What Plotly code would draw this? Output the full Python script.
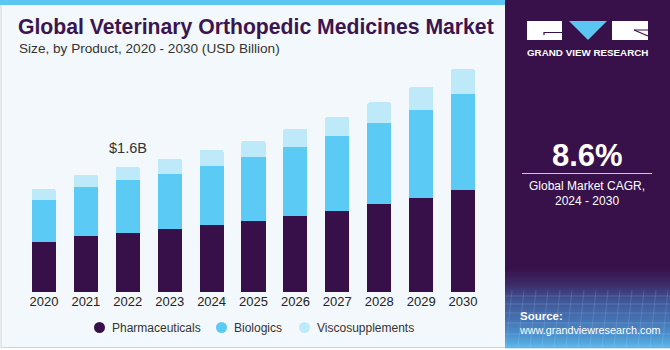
import plotly.graph_objects as go

years = ["2020", "2021", "2022", "2023", "2024", "2025", "2026", "2027", "2028", "2029", "2030"]
pharmaceuticals = [0.64, 0.71, 0.757, 0.805, 0.851, 0.907, 0.966, 1.038, 1.119, 1.20, 1.298]
biologics = [0.536, 0.626, 0.668, 0.706, 0.759, 0.812, 0.89, 0.954, 1.034, 1.124, 1.226]
viscosupplements = [0.14, 0.158, 0.175, 0.188, 0.204, 0.213, 0.23, 0.246, 0.268, 0.294, 0.319]
series_names = ["Pharmaceuticals", "Biologics", "Viscosupplements"]
series_colors = ["#37104a", "#5bcaf5", "#bee9f9"]
highlight_label = "$1.6B"
highlight_year = "2022"
cagr_text = "8.6%"

W, H = 670, 350
ML, MR, MT, MB = 23, 186, 57, 58
PW, PH = W - ML - MR, H - MT - MB


def px_x(x):
    return (x - ML) / PW


def px_y(y):
    return (H - MB - y) / PH


FONT = "Liberation Sans, Arial, sans-serif"

fig = go.Figure()
for name, vals, col in zip(series_names, [pharmaceuticals, biologics, viscosupplements], series_colors):
    fig.add_trace(go.Bar(x=years, y=vals, name=name, marker=dict(color=col, line=dict(width=0)),
                         showlegend=False, hoverinfo="skip"))

totals = [a + b + c for a, b, c in zip(pharmaceuticals, biologics, viscosupplements)]
hi = years.index(highlight_year)

shapes = []
# card background
shapes.append(dict(type="rect", xref="paper", yref="paper", x0=px_x(1), x1=px_x(506), y0=px_y(347.5), y1=px_y(1),
                   fillcolor="#f3f8fc", line=dict(color="#cfd3d6", width=1), layer="below"))
# top stripe
shapes.append(dict(type="rect", xref="paper", yref="paper", x0=px_x(0), x1=px_x(506), y0=px_y(5), y1=px_y(0),
                   fillcolor="#5cc6f2", line=dict(width=0), layer="below"))
# right panel
shapes.append(dict(type="rect", xref="paper", yref="paper", x0=px_x(505), x1=px_x(670), y0=px_y(348), y1=px_y(0),
                   fillcolor="#38114a", line=dict(width=0), layer="below"))
# gradient at bottom of right panel
grad_stops = [(268, (56, 17, 74)), (285, (60, 45, 105)), (300, (64, 85, 150)), (320, (70, 115, 180)),
              (335, (78, 145, 205)), (348, (90, 185, 235))]
n = 40
for i in range(n):
    y0 = 268 + (348 - 268) * i / n
    y1 = 268 + (348 - 268) * (i + 1) / n
    ym = (y0 + y1) / 2
    for j in range(len(grad_stops) - 1):
        a, ca = grad_stops[j]
        b, cb = grad_stops[j + 1]
        if a <= ym <= b:
            t = (ym - a) / (b - a)
            c = tuple(int(ca[k] + (cb[k] - ca[k]) * t) for k in range(3))
            break
    shapes.append(dict(type="rect", xref="paper", yref="paper", x0=px_x(505), x1=px_x(670),
                       y0=px_y(y1 + 0.3), y1=px_y(y0), fillcolor="rgb(%d,%d,%d)" % c, line=dict(width=0),
                       layer="below"))
# faint grid lines in gradient
for yy in [296, 304, 313, 323, 334, 346]:
    shapes.append(dict(type="line", xref="paper", yref="paper", x0=px_x(505), x1=px_x(670), y0=px_y(yy), y1=px_y(yy),
                       line=dict(color="rgba(200,220,255,0.18)", width=1), layer="below"))
for xx in range(512, 670, 12):
    shapes.append(dict(type="line", xref="paper", yref="paper", x0=px_x(xx), x1=px_x(xx - 6), y0=px_y(290), y1=px_y(348),
                       line=dict(color="rgba(200,220,255,0.15)", width=1), layer="below"))

# logo
shapes.append(dict(type="rect", xref="paper", yref="paper", x0=px_x(527), x1=px_x(562), y0=px_y(40), y1=px_y(21),
                   fillcolor="white", line=dict(width=0)))
shapes.append(dict(type="path", xref="paper", yref="paper",
                   path="M %f,%f L %f,%f L %f,%f Z" % (px_x(569), px_y(21), px_x(607), px_y(21), px_x(588), px_y(40)),
                   fillcolor="#5cc6f2", line=dict(width=0)))
shapes.append(dict(type="rect", xref="paper", yref="paper", x0=px_x(612), x1=px_x(648), y0=px_y(40), y1=px_y(21),
                   fillcolor="white", line=dict(width=0)))
shapes.append(dict(type="path", xref="paper", yref="paper",
                   path="M %f,%f L %f,%f L %f,%f" % (px_x(562), px_y(32.5), px_x(544), px_y(32.5), px_x(544), px_y(35)),
                   line=dict(color="#38114a", width=1.2)))
shapes.append(dict(type="line", xref="paper", yref="paper", x0=px_x(634), x1=px_x(648), y0=px_y(30), y1=px_y(36),
                   line=dict(color="#38114a", width=1.2)))
shapes.append(dict(type="line", xref="paper", yref="paper", x0=px_x(634), x1=px_x(648), y0=px_y(30), y1=px_y(30),
                   line=dict(color="#38114a", width=1)))
# CAGR divider
shapes.append(dict(type="line", xref="paper", yref="paper", x0=px_x(522), x1=px_x(652), y0=px_y(173.5), y1=px_y(173.5),
                   line=dict(color="#cfc6d8", width=1)))

# legend (manual)
legend_x = [99.5, 221.5, 304.5]
legend_y = 327.5
for lx, name, col in zip(legend_x, series_names, series_colors):
    r = 5.5
    shapes.append(dict(type="circle", xref="paper", yref="paper", x0=px_x(lx - r), x1=px_x(lx + r),
                       y0=px_y(legend_y + r), y1=px_y(legend_y - r), fillcolor=col, line=dict(width=0)))

annotations = []
for lx, name in zip(legend_x, series_names):
    annotations.append(dict(x=px_x(lx + 10.5), y=px_y(legend_y), xref="paper", yref="paper", text=name,
                            showarrow=False, xanchor="left", yanchor="middle",
                            font=dict(family=FONT, size=12, color="#333333")))

annotations += [
    dict(x=px_x(16), y=px_y(27), xref="paper", yref="paper", text="<b>Global Veterinary Orthopedic Medicines Market</b>",
         showarrow=False, xanchor="left", yanchor="middle", font=dict(family=FONT, size=21.2, color="#3b1450")),
    dict(x=px_x(17), y=px_y(48), xref="paper", yref="paper", text="Size, by Product, 2020 - 2030 (USD Billion)",
         showarrow=False, xanchor="left", yanchor="middle", font=dict(family=FONT, size=13.6, color="#333333")),
    dict(x=hi, y=totals[hi], xref="x", yref="y", text=highlight_label, showarrow=False,
         xanchor="center", yanchor="bottom", yshift=9, font=dict(family=FONT, size=14.5, color="#333333")),
    dict(x=px_x(587.5), y=px_y(52), xref="paper", yref="paper", text="<b>GRAND VIEW RESEARCH</b>", showarrow=False,
         xanchor="center", yanchor="middle", font=dict(family=FONT, size=9.8, color="white")),
    dict(x=px_x(587), y=px_y(155), xref="paper", yref="paper", text="<b>" + cagr_text + "</b>", showarrow=False,
         xanchor="center", yanchor="middle", font=dict(family=FONT, size=31, color="white")),
    dict(x=px_x(587), y=px_y(185.5), xref="paper", yref="paper", text="Global Market CAGR,", showarrow=False,
         xanchor="center", yanchor="middle", font=dict(family=FONT, size=12, color="white")),
    dict(x=px_x(587), y=px_y(201), xref="paper", yref="paper", text="2024 - 2030", showarrow=False,
         xanchor="center", yanchor="middle", font=dict(family=FONT, size=12, color="white")),
    dict(x=px_x(518), y=px_y(316), xref="paper", yref="paper", text="<b>Source:</b>", showarrow=False,
         xanchor="left", yanchor="middle", font=dict(family=FONT, size=11.5, color="white")),
    dict(x=px_x(517), y=px_y(330), xref="paper", yref="paper", text="www.grandviewresearch.com", showarrow=False,
         xanchor="left", yanchor="middle", font=dict(family=FONT, size=10.8, color="white")),
]

fig.update_layout(
    width=W, height=H, barmode="stack", bargap=0.427, barcornerradius=2,
    margin=dict(l=ML, r=MR, t=MT, b=MB, pad=0),
    paper_bgcolor="white", plot_bgcolor="rgba(0,0,0,0)",
    shapes=shapes, annotations=annotations, showlegend=False,
    xaxis=dict(type="category", range=[-0.5, 10.5], showgrid=False, zeroline=False, showline=False,
               ticks="", tickfont=dict(family=FONT, size=13, color="#222222"), ticklabelstandoff=0),
    yaxis=dict(range=[0, 3.0], visible=False, showgrid=False, zeroline=False),
)

fig.write_html("out.html")
